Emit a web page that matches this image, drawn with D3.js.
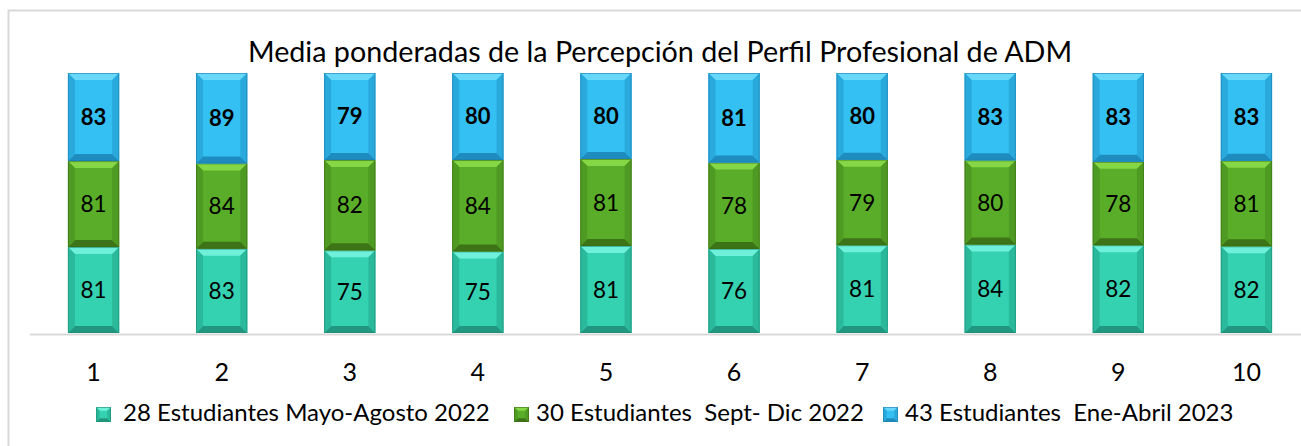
<!DOCTYPE html>
<html>
<head>
<meta charset="utf-8">
<script src="https://cdn.jsdelivr.net/npm/d3@7"></script>
<style>
  body { margin: 0; background: #fff; }
  svg text { font-family: Lato, "Open Sans", sans-serif; white-space: pre; }
</style>
</head>
<body>
<svg id="chart" width="1301" height="446"></svg>
<script>
// data
const categories = ['1', '2', '3', '4', '5', '6', '7', '8', '9', '10'];
const seriesNames = ['28 Estudiantes Mayo-Agosto 2022', '30 Estudiantes  Sept- Dic 2022', '43 Estudiantes  Ene-Abril 2023'];
const mayoAgosto = [81, 83, 75, 75, 81, 76, 81, 84, 82, 82];
const septDic = [81, 84, 82, 84, 81, 78, 79, 80, 78, 81];
const eneAbril = [83, 89, 79, 80, 80, 81, 80, 83, 83, 83];
const titleText = 'Media ponderadas de la Percepción del Perfil Profesional de ADM';

const svg = d3.select('#chart');
const baseY = 333, topY = 73;

// one palette per series: main, light (top bevel), dark (bottom bevel), side
const palette = [
  { main: '#35d2b1', light: '#6ff0da', dark: '#22977f', side: '#2bb99b', edge: '#1d8a74' },
  { main: '#5aad29', light: '#86d745', dark: '#3d7417', side: '#4f9a23', edge: '#3a6e15' },
  { main: '#34c0f2', light: '#67d7fa', dark: '#1f8cc0', side: '#2aa9dc', edge: '#1d7fae' }
];

// chart frame
svg.append('rect')
  .attr('x', 8.5).attr('y', 10.5)
  .attr('width', 1400).attr('height', 500)
  .attr('fill', '#fff')
  .attr('stroke', '#d9d9d9')
  .attr('stroke-width', 2);

svg.append('text')
  .text(titleText)
  .attr('x', 660)
  .attr('y', 62)
  .attr('text-anchor', 'middle')
  .attr('font-size', 28.7)
  .attr('fill', '#000');

const tableData = categories.map((c, i) => ({
  cat: c, s0: mayoAgosto[i], s1: septDic[i], s2: eneAbril[i]
}));

const stack = d3.stack().keys(['s0', 's1', 's2']).offset(d3.stackOffsetExpand);
const stacked = stack(tableData);

const x = d3.scaleBand()
  .domain(categories)
  .range([29.5, 1310.5])
  .paddingInner(0.6)
  .paddingOuter(0.3);

const y = d3.scaleLinear().domain([0, 1]).range([baseY, topY]);

// bevelled segment
function drawSegment(g, x0, y0, w, h, col, bev) {
  const b = Math.min(bev || 7, h / 4);
  g.append('rect').attr('x', x0).attr('y', y0).attr('width', w).attr('height', h).attr('fill', col.main);
  // top
  g.append('polygon')
    .attr('points', [[x0, y0], [x0 + w, y0], [x0 + w - b, y0 + b], [x0 + b, y0 + b]].join(' '))
    .attr('fill', col.light);
  // bottom
  g.append('polygon')
    .attr('points', [[x0, y0 + h], [x0 + w, y0 + h], [x0 + w - b, y0 + h - b], [x0 + b, y0 + h - b]].join(' '))
    .attr('fill', col.dark);
  // sides
  g.append('polygon')
    .attr('points', [[x0, y0], [x0 + b, y0 + b], [x0 + b, y0 + h - b], [x0, y0 + h]].join(' '))
    .attr('fill', col.side);
  g.append('polygon')
    .attr('points', [[x0 + w, y0], [x0 + w - b, y0 + b], [x0 + w - b, y0 + h - b], [x0 + w, y0 + h]].join(' '))
    .attr('fill', col.side);
  g.append('rect').attr('x', x0 + 0.5).attr('y', y0 + 0.5).attr('width', w - 1).attr('height', h - 1)
    .attr('fill', 'none').attr('stroke', col.edge).attr('stroke-width', 1).attr('stroke-opacity', 0.6);
}

// x axis
const xAxis = svg.append('g')
  .attr('transform', `translate(0,${baseY + 1})`)
  .call(d3.axisBottom(x).tickSize(0).tickPadding(29));
xAxis.select('.domain').attr('stroke', '#d9d9d9').attr('stroke-width', 2);
xAxis.selectAll('text')
  .attr('font-size', 25)
  .attr('font-family', 'Lato, "Open Sans", sans-serif')
  .attr('fill', '#000');

// bars
const bars = svg.append('g');
stacked.forEach((layer, si) => {
  layer.forEach((d, i) => {
    const cat = categories[i];
    const x0 = x(cat), w = x.bandwidth();
    const yTop = y(d[1]), yBot = y(d[0]);
    const g = bars.append('g');
    drawSegment(g, x0, yTop, w, yBot - yTop, palette[si]);
    g.append('text')
      .text(d.data['s' + si])
      .attr('x', x0 + w / 2)
      .attr('y', (yTop + yBot) / 2)
      .attr('dy', '0.36em')
      .attr('text-anchor', 'middle')
      .attr('font-size', si === 2 ? 22 : 22.5)
      .attr('font-weight', si === 2 ? 'bold' : 'normal')
      .attr('fill', '#000');
  });
});

// legend
const legendX = [96, 514, 883];
const legendTextX = [123, 536, 905];
const legend = svg.append('g');
seriesNames.forEach((name, i) => {
  const g = legend.append('g');
  drawSegment(g, legendX[i], 407, 15, 15, palette[i], 4);
  g.append('text')
    .text(name)
    .attr('x', legendTextX[i])
    .attr('y', 421)
    .attr('font-size', 24)
    .attr('fill', '#000');
});
</script>
</body>
</html>
